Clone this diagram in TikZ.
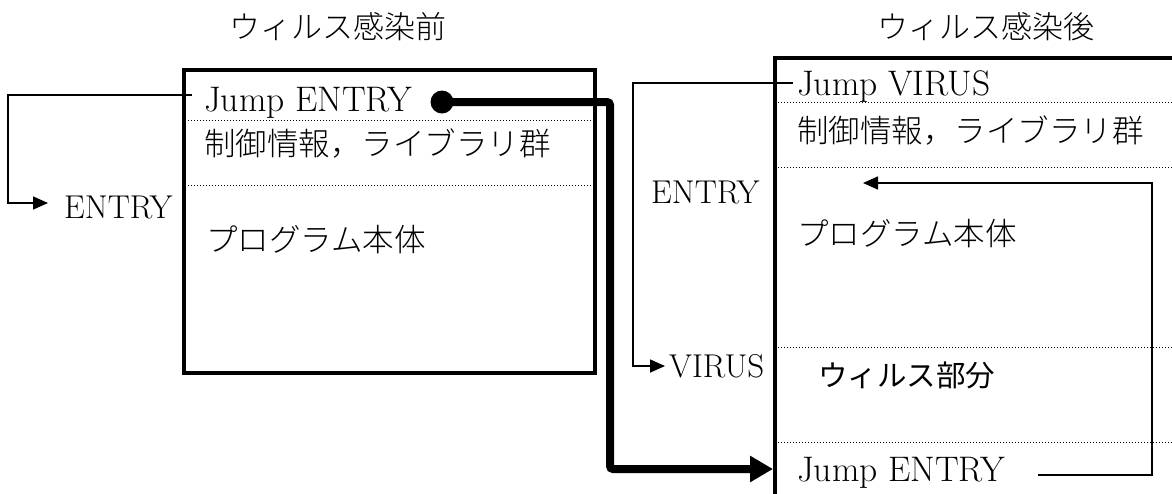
\documentclass[tikz,border=0pt]{standalone}
\usepackage{fontspec}
\newfontfamily\jpfont{Noto Sans CJK JP}
\newfontfamily\jplight{Noto Sans CJK JP Light}
\usetikzlibrary{arrows.meta}
\begin{document}
\begin{tikzpicture}[x=1pt,y=-1pt,
  lat/.style={font=\fontsize{35.5}{40}\selectfont, inner sep=0pt, anchor=base west},
  lab/.style={font=\fontsize{33}{38}\selectfont, inner sep=0pt, anchor=base west},
  jp/.style={font=\jplight\fontsize{31.5}{36}\selectfont, inner sep=0pt, anchor=west},
  ttl/.style={font=\jplight\fontsize{31}{36}\selectfont, inner sep=0pt},
  boxline/.style={line width=4pt},
  sepline/.style={line width=1pt, dash pattern=on 1pt off 2pt},
  conn/.style={line width=1.6pt},
  connarrow/.style={conn, -{Triangle[length=15pt,width=13pt]}},
  jumparrow/.style={line width=8pt, -{Triangle[length=23pt,width=25pt]}, rounded corners=3pt}
]
\useasboundingbox (0,0) rectangle (1172,493);

% titles
\node[ttl] (t1) at (338,27) {ウィルス感染前};
\node[ttl] (t2) at (986,27) {ウィルス感染後};

% left box
\node[draw, boxline, minimum width=411pt, minimum height=303pt, anchor=north west, inner sep=0pt] (lbox) at (182,68) {};
\draw[sepline] (182,120) -- (593,120);
\draw[sepline] (182,185) -- (593,185);
\node[lat] (ljump) at (204,111) {Jump ENTRY};
\node[jp] (lctl) at (204,144) {制御情報，ライブラリ群};
\node[jp] (lprog) at (206,240) {プログラム本体};
\node[lab] (lentry) at (64,218) {ENTRY};

% left connector
\coordinate (lc0) at (192,95);
\coordinate (lc1) at (8,95);
\coordinate (lc2) at (8,203);
\coordinate (lc3) at (48,203);
\draw[connarrow] (lc0) -- (lc1) -- (lc2) -- (lc3);

% right box
\draw[boxline] (775,500) -- (775,58) -- (1180,58);
\foreach \yy in {102,167,347,442} \draw[sepline] (775,\yy) -- (1172,\yy);
\node[lat] (rjump) at (797,95) {Jump VIRUS};
\node[jp] (rctl) at (797,131) {制御情報，ライブラリ群};
\node[jp] (rprog) at (797,234) {プログラム本体};
\node[jp, font=\jpfont\fontsize{29.5}{34}\selectfont] (rvir) at (818,375) {ウィルス部分};
\node[lat] (rjump2) at (797,481) {Jump ENTRY};
\node[lab] (rentry) at (651,203) {ENTRY};
\node[lab] (rvirus) at (669,377) {VIRUS};

% VIRUS connector
\coordinate (vc0) at (793,83);
\coordinate (vc1) at (633,83);
\coordinate (vc2) at (633,366);
\coordinate (vc3) at (665,366);
\draw[connarrow] (vc0) -- (vc1) -- (vc2) -- (vc3);

% return connector
\coordinate (ec0) at (1038,475);
\coordinate (ec1) at (1152,475);
\coordinate (ec2) at (1152,183);
\coordinate (ec3) at (863,183);
\draw[connarrow] (ec0) -- (ec1) -- (ec2) -- (ec3);

% thick jump
\node[circle, fill, inner sep=0pt, minimum size=23pt] (dot) at (442,102) {};
\coordinate (jc1) at (610,102);
\coordinate (jc2) at (610,469);
\coordinate (jc3) at (773,469);
\draw[jumparrow] (dot.center) -- (jc1) -- (jc2) -- (jc3);
\end{tikzpicture}
\end{document}
